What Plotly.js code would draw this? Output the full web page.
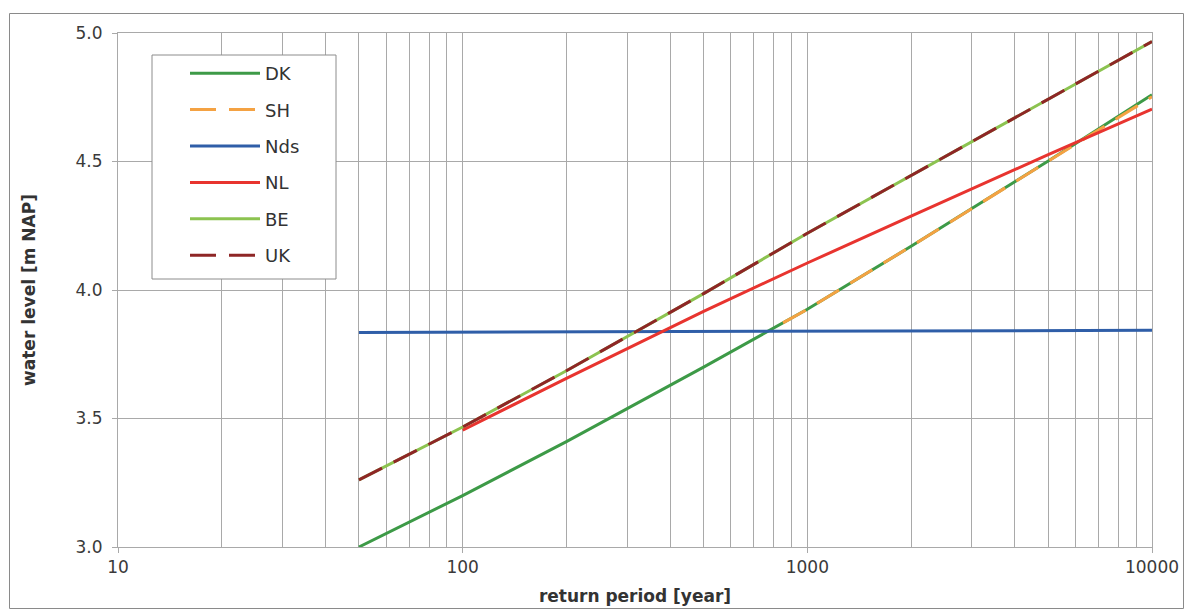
<!DOCTYPE html>
<html>
<head>
<meta charset="utf-8">
<script src="https://cdn.plot.ly/plotly-3.0.1.min.js"></script>
<style>
  html, body { margin: 0; padding: 0; background: #ffffff; }
  #chart { width: 1186px; height: 610px; }
</style>
</head>
<body>
<div id="chart"></div>
<script>
// ---- data ----
const seriesNames = ['DK', 'SH', 'Nds', 'NL', 'BE', 'UK'];

const dkPeriod  = [50, 100, 200, 500, 1000, 2000, 3000, 5000, 10000];
const dkLevel   = [3.0, 3.2, 3.41, 3.70, 3.925, 4.17, 4.317, 4.502, 4.76];

const shPeriod  = [850, 1000, 2000, 3000, 5000, 10000];
const shLevel   = [3.872, 3.925, 4.17, 4.317, 4.502, 4.752];

const ndsPeriod = [50, 100, 1000, 10000];
const ndsLevel  = [3.835, 3.836, 3.840, 3.843];

const nlPeriod  = [100, 200, 500, 1000, 2000, 5000, 10000];
const nlLevel   = [3.455, 3.656, 3.917, 4.105, 4.287, 4.527, 4.704];

const bePeriod  = [50, 100, 200, 500, 1000, 2000, 5000, 10000];
const beLevel   = [3.261, 3.467, 3.686, 3.986, 4.221, 4.445, 4.742, 4.967];

const ukPeriod  = [50, 100, 200, 500, 1000, 2000, 5000, 10000];
const ukLevel   = [3.261, 3.467, 3.686, 3.986, 4.221, 4.445, 4.742, 4.967];

const xTickVals  = [10, 100, 1000, 10000];
const xTickText  = ['10', '100', '1000', '10000'];
const xMinorVals = [20, 30, 40, 50, 60, 70, 80, 90,
                    200, 300, 400, 500, 600, 700, 800, 900,
                    2000, 3000, 4000, 5000, 6000, 7000, 8000, 9000];

// ---- styling ----
const FONT = 'DejaVu Sans, Arial, sans-serif';
const GRID = '#a9a9a9';
const styles = {
  DK:  {color: '#3d9a47', dash: 'solid'},
  SH:  {color: '#f4a243', dash: '26px,13px'},
  Nds: {color: '#2f5ea8', dash: 'solid'},
  NL:  {color: '#e8342f', dash: 'solid'},
  BE:  {color: '#8cc350', dash: 'solid'},
  UK:  {color: '#8e2626', dash: '26px,13px'}
};
const seriesData = {
  DK: [dkPeriod, dkLevel], SH: [shPeriod, shLevel], Nds: [ndsPeriod, ndsLevel],
  NL: [nlPeriod, nlLevel], BE: [bePeriod, beLevel], UK: [ukPeriod, ukLevel]
};

const traces = seriesNames.map(name => ({
  type: 'scatter',
  mode: 'lines',
  name: name,
  legendgroup: name,
  x: seriesData[name][0],
  y: seriesData[name][1],
  line: {color: styles[name].color, width: 3, dash: styles[name].dash},
  hoverinfo: 'x+y+name'
}));

// plot-area geometry helpers (paper coords)
const L = 118, R = 1152, T = 33, B = 547;
const px = v => (v - L) / (R - L);
const py = v => (B - v) / (B - T);

const layout = {
  width: 1186,
  height: 610,
  margin: {l: L, r: 1186 - R, t: T, b: 610 - B, pad: 0},
  paper_bgcolor: '#ffffff',
  plot_bgcolor: '#ffffff',
  font: {family: FONT, size: 17, color: '#3a3a3a'},
  showlegend: true,
  legend: {
    x: px(185), y: py(55), xanchor: 'left', yanchor: 'top',
    bgcolor: 'rgba(0,0,0,0)', borderwidth: 0,
    font: {family: FONT, size: 18, color: '#333333'},
    traceorder: 'grouped', tracegroupgap: 10,
    itemwidth: 70
  },
  xaxis: {
    type: 'log',
    range: [1, 4],
    tickmode: 'array',
    tickvals: xTickVals,
    ticktext: xTickText,
    ticks: 'outside', ticklen: 5, tickcolor: GRID, tickwidth: 1,
    showgrid: true, gridcolor: GRID, gridwidth: 1,
    minor: {tickmode: 'array', tickvals: xMinorVals, showgrid: true, gridcolor: GRID, gridwidth: 1, ticks: ''},
    showline: true, linecolor: GRID, linewidth: 1, mirror: true,
    zeroline: false,
    tickfont: {family: FONT, size: 17, color: '#3a3a3a'},
    title: {text: 'return period [year]', font: {family: FONT, size: 17, color: '#333333', weight: 'bold'}, standoff: 13}
  },
  yaxis: {
    range: [3, 5],
    tickmode: 'linear', tick0: 3, dtick: 0.5,
    tickformat: '.1f',
    ticks: 'outside', ticklen: 5, tickcolor: GRID, tickwidth: 1,
    showgrid: true, gridcolor: GRID, gridwidth: 1,
    showline: true, linecolor: GRID, linewidth: 1, mirror: true,
    zeroline: false,
    tickfont: {family: FONT, size: 17, color: '#3a3a3a'},
    ticklabelstandoff: 6,
    title: {text: 'water level [m NAP]', font: {family: FONT, size: 17, color: '#333333', weight: 'bold'}, standoff: 35}
  },
  shapes: [
    // legend box
    {type: 'rect', xref: 'paper', yref: 'paper', layer: 'above',
     x0: px(152), x1: px(336), y0: py(279), y1: py(55),
     fillcolor: '#ffffff', line: {color: '#8c8c8c', width: 1}},
    // outer frame of the figure
    {type: 'rect', xref: 'paper', yref: 'paper', layer: 'below',
     x0: px(9.5), x1: px(1183.5), y0: py(608.5), y1: py(13.5),
     fillcolor: 'rgba(0,0,0,0)', line: {color: '#8a8a8a', width: 1}}
  ]
};

Plotly.newPlot('chart', traces, layout, {staticPlot: true, displayModeBar: false});
</script>
</body>
</html>
